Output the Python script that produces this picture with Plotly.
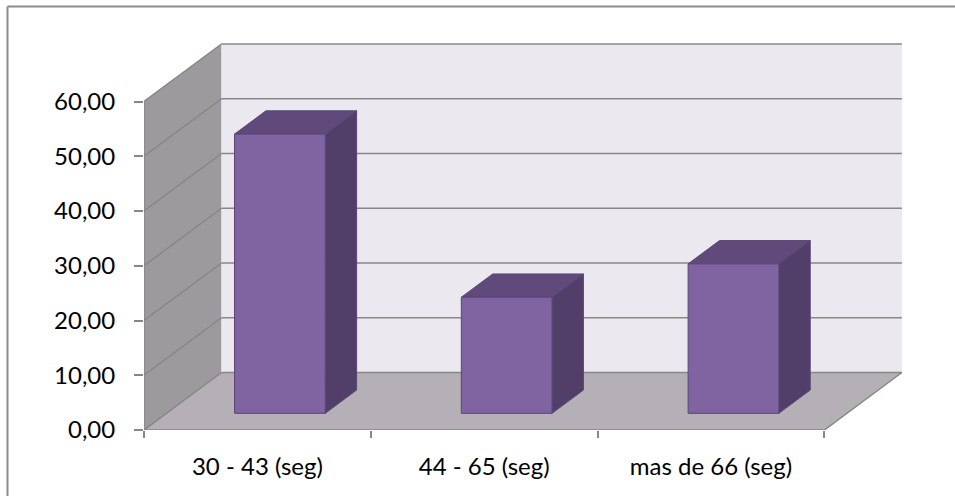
import plotly.graph_objects as go

# ---- data ----
categories = ["30 - 43 (seg)", "44 - 65 (seg)", "mas de 66 (seg)"]
values = [51.0, 21.2, 27.3]
y_ticks = [0, 10, 20, 30, 40, 50, 60]

# ---- layout geometry (pixels) ----
W, H = 955, 496
ML, MR, MT, MB = 144, 49, 40, 66
PLOT_W = W - ML - MR
PLOT_H = H - MT - MB
CAT_PX = 226.8          # width of one category slot on the front plane
UNIT_PX = 5.475         # pixels per value unit
X_MAX = PLOT_W / CAT_PX
Y_MAX = PLOT_H / UNIT_PX

# oblique depth offset of the box, in axis units
DX = 77.5 / CAT_PX
DY = 57.5 / UNIT_PX
YTOP = y_ticks[-1]
N = len(categories)

# bar placement inside the depth and slot
BAR_HALF = 0.2
F0, F1 = 0.29, 0.695     # front / back depth fractions of the bars

GRID = "#878787"
WALL_L = "#9c9a9d"
WALL_B = "#ebe8f0"
FLOOR = "#b4b0b5"
BAR_FRONT = "#8064a2"
BAR_TOP = "#5f4a7b"
BAR_SIDE = "#513f69"
BAR_EDGE = "#5a4675"

fig = go.Figure()


def poly(xs, ys, fill, edge=None, width=0.0):
    fig.add_trace(go.Scatter(
        x=xs + [xs[0]], y=ys + [ys[0]], mode="lines", fill="toself",
        fillcolor=fill, line=dict(color=edge or fill, width=width),
        hoverinfo="skip", showlegend=False))


def seg(x0, y0, x1, y1, color=GRID, width=1.5):
    fig.add_trace(go.Scatter(
        x=[x0, x1], y=[y0, y1], mode="lines",
        line=dict(color=color, width=width),
        hoverinfo="skip", showlegend=False))


# walls and floor
poly([0, 0, DX, DX], [0, YTOP, YTOP + DY, DY], WALL_L)
poly([DX, DX, N + DX, N + DX], [DY, YTOP + DY, YTOP + DY, DY], WALL_B)
poly([0, N, N + DX, DX], [0, 0, DY, DY], FLOOR)

# gridlines on the back and side walls
for v in y_ticks:
    seg(DX, v + DY, N + DX, v + DY)
    seg(0, v, DX, v + DY)

# floor edges
seg(N, 0, N + DX, DY)
seg(0, 0, N, 0)
# front vertical axis line
seg(0, 0, 0, YTOP)

# bars
for i, v in enumerate(values):
    xl = i + 0.5 - BAR_HALF
    xr = i + 0.5 + BAR_HALF
    fx, fy = F0 * DX, F0 * DY
    bx, by = F1 * DX, F1 * DY
    # side face
    poly([xr + fx, xr + fx, xr + bx, xr + bx],
         [fy, v + fy, v + by, by], BAR_SIDE, BAR_EDGE, 1)
    # top face
    poly([xl + fx, xr + fx, xr + bx, xl + bx],
         [v + fy, v + fy, v + by, v + by], BAR_TOP, BAR_EDGE, 1)
    # front face
    poly([xl + fx, xr + fx, xr + fx, xl + fx],
         [fy, fy, v + fy, v + fy], BAR_FRONT, BAR_EDGE, 1)

FONT = "Lato, 'Open Sans', sans-serif"
FS = 24

fig.update_layout(
    width=W, height=H,
    margin=dict(l=ML, r=MR, t=MT, b=MB, pad=0),
    paper_bgcolor="white", plot_bgcolor="rgba(0,0,0,0)",
    separators=",.",
    font=dict(family=FONT, size=FS, color="#000000"),
    xaxis=dict(
        range=[0, X_MAX], showgrid=False, zeroline=False, showline=False,
        tickvals=[i + 0.5 for i in range(N)], ticktext=categories,
        ticks="", ticklabelstandoff=20,
        tickfont=dict(family=FONT, size=FS, color="#000000"),
        minor=dict(tickvals=list(range(N + 1)), ticks="outside",
                   ticklen=7, tickwidth=1.5, tickcolor=GRID),
        fixedrange=True,
    ),
    yaxis=dict(
        range=[0, Y_MAX], showgrid=False, zeroline=False, showline=False,
        tickvals=y_ticks, tickformat=".2f",
        ticks="outside", ticklen=9, tickwidth=1.5, tickcolor=GRID,
        ticklabelstandoff=14,
        tickfont=dict(family=FONT, size=FS, color="#000000"),
        fixedrange=True,
    ),
)

# chart frame (top and left edges)
px_x = lambda p: (p - ML) / PLOT_W
px_y = lambda p: (H - MB - p) / PLOT_H
fig.add_shape(type="line", xref="paper", yref="paper",
              x0=px_x(7.5), y0=px_y(6.5), x1=px_x(W), y1=px_y(6.5),
              line=dict(color="#8c8c8c", width=2))
fig.add_shape(type="line", xref="paper", yref="paper",
              x0=px_x(7.5), y0=px_y(6.5), x1=px_x(7.5), y1=px_y(H),
              line=dict(color="#8c8c8c", width=2))

fig.write_html("out.html")
